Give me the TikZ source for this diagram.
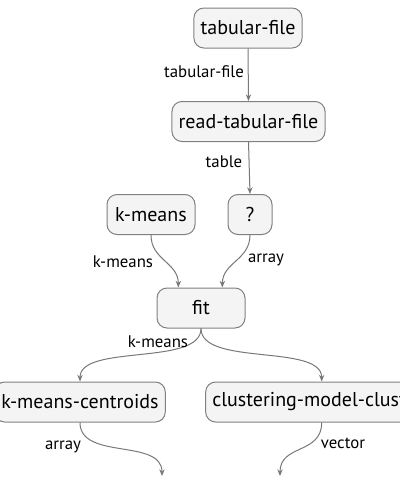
\documentclass[tikz,border=0pt]{standalone}
\usepackage{fontspec}
\setmainfont{PT Sans}
\usetikzlibrary{arrows.meta}

\definecolor{boxfill}{RGB}{244,244,244}
\definecolor{boxline}{RGB}{128,128,128}
\definecolor{edgeline}{RGB}{120,120,120}

\tikzset{every picture/.style={line width=0.75pt}}
\tikzset{
  box/.style={draw=boxline, fill=boxfill, rounded corners=7.5pt, minimum height=30pt, inner xsep=5pt, font=\fontsize{15}{18}\selectfont},
  lbl/.style={inner sep=0.75pt, font=\fontsize{12.6}{15}\selectfont},
  flow/.style={draw=edgeline, -{Stealth[length=5pt,width=4pt]}}
}

\begin{document}
\begin{tikzpicture}[x=0.75pt,y=0.75pt,yscale=-1,xscale=1]
\useasboundingbox (0,0) rectangle (400,500);

%Shape: Boxes
\node [box] (tab) at (248,28) {tabular-file};
\node [box] (read) at (248.5,121.5) {read-tabular-file};
\node [box, minimum width=66pt] (km) at (151,214.5) {k-means};
\node [box, minimum width=33pt] (q) at (250,214.5) {?};
\node [box, minimum width=66pt] (fit) at (201,308) {fit};
\node [box] (cent) at (80,402) {k-means-centroids};
\node [box] (clus) at (321.7,402) {clustering-model-clusters};

%Free ends
\coordinate (out1) at (162,476);
\coordinate (out2) at (280,476);

%Straight Lines
\draw [flow] (tab.south) -- (read.north);
\draw [flow] (read.south) -- (q.north);
%Curves
\draw [flow] (km.south) .. controls +(0,25) and +(0,-25) .. ([xshift=-17pt]fit.north);
\draw [flow] (q.south) .. controls +(0,25) and +(0,-25) .. ([xshift=16pt]fit.north);
\draw [flow] (fit.south) .. controls +(0,38) and +(0,-38) .. (cent.north);
\draw [flow] (fit.south) .. controls +(0,38) and +(0,-38) .. (clus.north);
\draw [flow] (cent.south) .. controls +(0,38) and +(0,-38) .. (out1);
\draw [flow] (clus.south) .. controls +(0,32) and +(0,-32) .. (out2);

% Text Node
\node [lbl] (l1) at (204,72) {tabular-file};
% Text Node
\node [lbl] (l2) at (224,162) {table};
% Text Node
\node [lbl] (l3) at (123,262) {k-means};
% Text Node
\node [lbl] (l4) at (266,260) {array};
% Text Node
\node [lbl] (l5) at (158,342) {k-means};
% Text Node
\node [lbl] (l6) at (63,446.7) {array};
% Text Node
\node [lbl] (l7) at (343,443) {vector};

\end{tikzpicture}
\end{document}
